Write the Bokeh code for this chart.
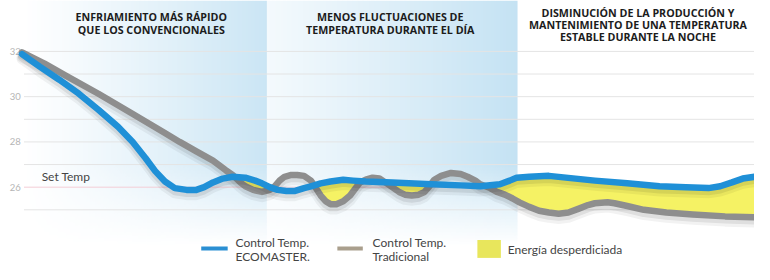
import numpy as np
from bokeh.plotting import figure
from bokeh.models import ColumnDataSource, Range1d, Label
from bokeh.transform import dodge
from bokeh.core.properties import value
from bokeh.embed import file_html
from bokeh.resources import INLINE

# ---------------- data ----------------
# time axis is an arbitrary unit (no axis shown)
t_eco = [0, 18, 38, 58, 78, 98, 113, 126, 136, 146, 156, 168, 178, 186,
         195, 205, 215, 228, 238, 245, 253, 261, 270, 278, 288, 295, 305, 315, 328, 338, 351,
         378, 418, 448, 468, 488, 498, 505, 518, 538, 585, 618, 651, 678, 701, 713, 725, 736, 748]
temp_eco = [31.88, 31.33, 30.75, 30.13, 29.42, 28.67, 28.0, 27.29, 26.71, 26.25, 25.96, 25.88,
            25.88, 26.0, 26.21, 26.38, 26.46, 26.42, 26.29, 26.17,
            26.0, 25.88, 25.83, 25.83, 25.96, 26.04, 26.17, 26.25, 26.33, 26.29, 26.25, 26.21,
            26.13, 26.08, 26.04, 26.13, 26.29, 26.42, 26.46, 26.5, 26.29, 26.17, 26.04, 26.0,
            25.96, 26.04, 26.21, 26.38, 26.46]

t_trad = [0, 23, 45, 78, 111, 145, 161, 178, 195, 208, 215, 223, 228, 236, 245, 253, 258, 263,
          268, 275, 281, 288, 295, 300, 305, 310, 315, 321, 328, 335, 340, 345, 351, 358, 365,
          371, 378, 385, 391, 398, 405, 411, 416, 421, 428, 438, 448, 455, 463, 468, 478, 485,
          493, 501, 508, 518, 528, 538, 548, 558, 568, 578, 585, 598, 605, 618, 635, 658, 685,
          718, 748]
temp_trad = [31.96, 31.46, 30.92, 30.13, 29.29, 28.42, 28.0, 27.58, 27.17, 26.75, 26.54, 26.21,
             26.04, 25.88, 25.79, 25.88, 26.04, 26.29, 26.46, 26.54, 26.54, 26.5, 26.29, 25.96,
             25.63, 25.38, 25.25, 25.25, 25.38, 25.63, 25.92, 26.21, 26.33, 26.42, 26.38, 26.21,
             26.0, 25.79, 25.67, 25.63, 25.67, 25.79, 26.04, 26.33, 26.5, 26.63, 26.58, 26.46,
             26.29, 26.13, 25.96, 25.79, 25.67, 25.5, 25.33, 25.13, 24.96, 24.88, 24.83, 24.88,
             25.04, 25.21, 25.29, 25.33, 25.29, 25.17, 25.0, 24.88, 24.79, 24.71, 24.67]

grid_values = [25, 27, 28, 29, 30, 31, 32]
set_temp = 26
tick_values = [26, 28, 30, 32]
tick_labels = ["26", "28", "30", "32"]
set_temp_label = "Set Temp"

title_1 = ["ENFRIAMIENTO MÁS RÁPIDO", "QUE LOS CONVENCIONALES"]
title_2 = ["MENOS FLUCTUACIONES DE", "TEMPERATURA DURANTE EL DÍA"]
title_3 = ["DISMINUCIÓN DE LA PRODUCCIÓN Y", "MANTENIMIENTO DE UNA TEMPERATURA",
           "ESTABLE DURANTE LA NOCHE"]
legend_eco = ["Control Temp.", "ECOMASTER."]
legend_trad = ["Control Temp.", "Tradicional"]
legend_waste = "Energía desperdiciada"

# ---------------- layout helpers (reference pixel -> data) ----------------
W, H = 754, 264


def X(px):
    return px - 22


def Y(py):
    return (822 - py) / 24


p = figure(width=W, height=H, x_range=Range1d(X(0), X(770)), y_range=Range1d(Y(280), Y(0)),
           output_backend="svg", toolbar_location=None, min_border=0,
           x_axis_type=None, y_axis_type=None)
p.grid.visible = False
p.outline_line_color = None
p.background_fill_color = "white"
p.border_fill_color = "white"


# ---------------- gradient panels ----------------
def gradient(w, h, rgb, a0, a1, top_px, bottom_px, fade_px):
    img = np.empty((h, w), dtype=np.uint32)
    v = img.view(dtype=np.uint8).reshape((h, w, 4))
    ax = np.linspace(a0, a1, w) ** 1.1
    rows = np.arange(h)
    ypx = bottom_px - rows / (h - 1) * (bottom_px - top_px)
    ay = np.clip((bottom_px - ypx) / fade_px, 0, 1)
    alpha = ay[:, None] * ax[None, :]
    v[:, :, 0] = rgb[0]
    v[:, :, 1] = rgb[1]
    v[:, :, 2] = rgb[2]
    v[:, :, 3] = (alpha * 255).astype(np.uint8)
    return img


img1 = gradient(160, 80, (196, 226, 243), 0.0, 0.9, 0, 262, 90)
img2 = gradient(160, 80, (196, 226, 243), 0.22, 1.0, 0, 262, 90)
p.image_rgba(image=[img1], x=X(20), y=Y(262), dw=X(272) - X(20), dh=Y(0) - Y(262))
p.image_rgba(image=[img2], x=X(272), y=Y(262), dw=X(528) - X(272), dh=Y(0) - Y(262))

# ---------------- grid ----------------
p.segment(x0=X(24), x1=X(770), y0=grid_values, y1=grid_values, line_color="#e4e4e4", line_width=1)
p.segment(x0=[X(24)], x1=[X(770)], y0=[set_temp], y1=[set_temp], line_color="#f3cdd6", line_width=1)

p.text(x=X(15), y=tick_values, text=tick_labels, text_align="center", text_baseline="middle",
       text_font=value("Lato"), text_font_size="9.5px", text_color="#b5b5b5")

p.add_layout(Label(x=X(42), y=Y(187), text=set_temp_label, text_baseline="middle",
                   text_font="Lato", text_font_size="12px", text_color="#444444"))

# ---------------- wasted energy fill ----------------
tg = np.array(t_trad, dtype=float)
eco_at = np.interp(tg, t_eco, temp_eco)
upper = np.maximum(eco_at, temp_trad)
p.varea(x=tg, y1=temp_trad, y2=upper, fill_color="#f5f264")

# ---------------- lines with soft shadows ----------------
src_eco = ColumnDataSource(dict(t=t_eco, temp=temp_eco))
src_trad = ColumnDataSource(dict(t=t_trad, temp=temp_trad))

for src, col in ((src_trad, "#8e8e8e"), (src_eco, "#1f90d7")):
    p.line(x="t", y=dodge("temp", -0.21), source=src, line_width=11, line_color="black",
           line_alpha=0.05, line_join="round", line_cap="round")
    p.line(x="t", y=dodge("temp", -0.14), source=src, line_width=8, line_color="black",
           line_alpha=0.08, line_join="round", line_cap="round")
    p.line(x="t", y="temp", source=src, line_width=6.5, line_color=col,
           line_join="round", line_cap="round")


# ---------------- titles ----------------
def title(lines, cx, y0, dy=14):
    for i, s in enumerate(lines):
        p.add_layout(Label(x=X(cx), y=Y(y0 + i * dy), text=s, text_align="center",
                           text_baseline="middle", text_font="Open Sans",
                           text_font_style="bold", text_font_size="10.7px",
                           text_color="#1c1c1c"))


title(title_1, 154, 17)
title(title_2, 398, 17)
title(title_3, 651, 13, 12.8)

# ---------------- legend ----------------
p.segment(x0=[X(205)], x1=[X(232)], y0=[Y(263)], y1=[Y(263)], line_color="#2a8fd3", line_width=4)
p.segment(x0=[X(344)], x1=[X(370)], y0=[Y(263)], y1=[Y(263)], line_color="#a99f8d", line_width=4)
p.quad(left=[X(487)], right=[X(511)], top=[Y(254)], bottom=[Y(273)], fill_color="#e8e65c",
       line_color=None)


def leg(lines, x, y0, dy=14):
    for i, s in enumerate(lines):
        p.add_layout(Label(x=X(x), y=Y(y0 + i * dy), text=s, text_baseline="middle",
                           text_font="Lato", text_font_size="12px", text_color="#444444"))


leg(legend_eco, 240, 257)
leg(legend_trad, 380, 257)
leg([legend_waste], 518, 264)

open("out.html", "w").write(file_html(p, INLINE))
